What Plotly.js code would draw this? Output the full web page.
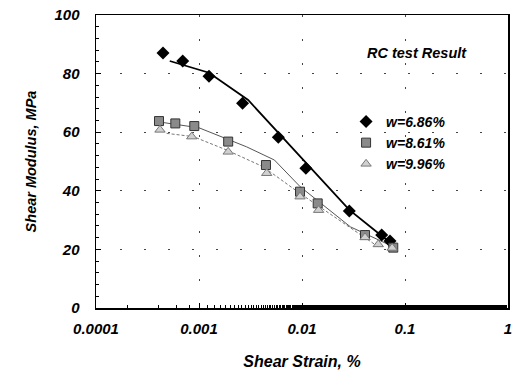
<!DOCTYPE html>
<html><head><meta charset="utf-8">
<script src="https://cdn.plot.ly/plotly-3.0.1.min.js"></script>
<style>html,body{margin:0;padding:0;background:#fff}#c{width:514px;height:384px}</style>
</head><body><div id="c"></div>
<script>
// measured points
const strainA = [4.47e-4, 6.95e-4, 1.25e-3, 2.65e-3, 5.89e-3, 0.0109, 0.0288, 0.0594, 0.0715];
const modA    = [87.0, 84.3, 79.1, 69.9, 58.3, 47.7, 33.1, 24.9, 22.9];
const strainB = [4.09e-4, 5.89e-4, 9.0e-4, 1.92e-3, 4.47e-3, 9.57e-3, 0.0142, 0.0409, 0.0769];
const modB    = [63.8, 63.0, 62.1, 56.8, 48.8, 39.7, 35.7, 24.9, 20.6];
const strainC = [4.18e-4, 8.5e-4, 1.92e-3, 4.54e-3, 9.57e-3, 0.0145, 0.0409, 0.055, 0.075];
const modC    = [60.8, 58.5, 53.3, 46.0, 38.0, 33.4, 24.1, 21.7, 20.5];
// fitted curves
const fitStrainA = [5.2e-4, 1.25e-3, 3.0e-3, 6.0e-3, 0.0107, 0.0288, 0.06, 0.077];
const fitModA    = [84.3, 80.3, 71.0, 59.5, 50.0, 33.5, 24.5, 21.5];
const fitStrainB = [4.1e-4, 1.0e-3, 2.9e-3, 5.4e-3, 9.6e-3, 0.0295, 0.077];
const fitModB    = [63.5, 61.5, 55.0, 50.5, 41.4, 27.7, 20.9];
const fitStrainC = [4.85e-4, 8.8e-4, 1.86e-3, 4.2e-3, 9.57e-3, 0.0295, 0.055];
const fitModC    = [59.6, 58.5, 53.9, 48.2, 39.1, 27.2, 20.9];
const seriesNames = ['w=6.86%', 'w=8.61%', 'w=9.96%'];
const xTickVals = [0.0001, 0.001, 0.01, 0.1, 1];
const xTickText = ['0.0001', '0.001', '0.01', '0.1', '1'];

const F = 'Liberation Sans, Arial, sans-serif';
const traces = [
  {x: fitStrainA, y: fitModA, mode: 'lines', line: {color: '#000', width: 1.8}, showlegend: false, hoverinfo: 'skip'},
  {x: fitStrainB, y: fitModB, mode: 'lines', line: {color: '#555', width: 1}, showlegend: false, hoverinfo: 'skip'},
  {x: fitStrainC, y: fitModC, mode: 'lines', line: {color: '#777', width: 1, dash: '3px,2px'}, showlegend: false, hoverinfo: 'skip'},
  {x: strainA, y: modA, mode: 'markers', name: seriesNames[0],
   marker: {symbol: 'diamond', size: 10, color: '#000', line: {color: '#000', width: 0}}},
  {x: strainB, y: modB, mode: 'markers', name: seriesNames[1],
   marker: {symbol: 'square', size: 9, color: '#8a8a8a', line: {color: '#333', width: 1}}},
  {x: strainC, y: modC, mode: 'markers', name: seriesNames[2],
   marker: {symbol: 'triangle-up', size: 9, color: '#d0d0d0', line: {color: '#777', width: 1}}}
];
const layout = {
  width: 514, height: 384,
  margin: {l: 96, r: 6, t: 15, b: 76},
  paper_bgcolor: '#fff', plot_bgcolor: '#fff',
  font: {family: F, size: 15, color: '#000', weight: 'bold', style: 'italic'},
  showlegend: true,
  legend: {x: 0.607, y: 0.69, xanchor: 'left', yanchor: 'top', bgcolor: 'rgba(0,0,0,0)',
           font: {family: F, size: 14, weight: 'bold', style: 'italic'}, itemwidth: 30},
  xaxis: {type: 'log', range: [-4, 0], tickvals: xTickVals, ticktext: xTickText,
          showline: true, linecolor: '#000', linewidth: 1.5, mirror: true,
          ticks: 'inside', ticklen: 5, tickcolor: '#000',
          minor: {ticks: 'inside', ticklen: 3, tickcolor: '#000', showgrid: false},
          ticklabelstandoff: 6,
          showgrid: true, gridcolor: '#444', gridwidth: 1, griddash: '2px,22px',
          zeroline: false,
          title: {text: 'Shear Strain, %', standoff: 20, font: {family: F, size: 16, weight: 'bold', style: 'italic'}}},
  yaxis: {range: [0, 100], dtick: 20, tick0: 0,
          showline: true, linecolor: '#000', linewidth: 1.5, mirror: true,
          ticks: 'inside', ticklen: 5, tickcolor: '#000',
          minor: {dtick: 4, ticks: 'inside', ticklen: 3, tickcolor: '#000', showgrid: false},
          ticklabelstandoff: 12,
          showgrid: true, gridcolor: '#444', gridwidth: 1, griddash: '2px,22px',
          zeroline: false,
          title: {text: 'Shear Modulus, MPa', standoff: 14, font: {family: F, size: 14.5, weight: 'bold', style: 'italic'}}},
  annotations: [{text: 'RC test Result', xref: 'paper', yref: 'paper', x: 0.653, y: 0.87,
                 xanchor: 'left', yanchor: 'middle', showarrow: false,
                 font: {family: F, size: 14.5, weight: 'bold', style: 'italic'}}]
};
Plotly.newPlot('c', traces, layout, {displayModeBar: false, staticPlot: true});
</script></body></html>
